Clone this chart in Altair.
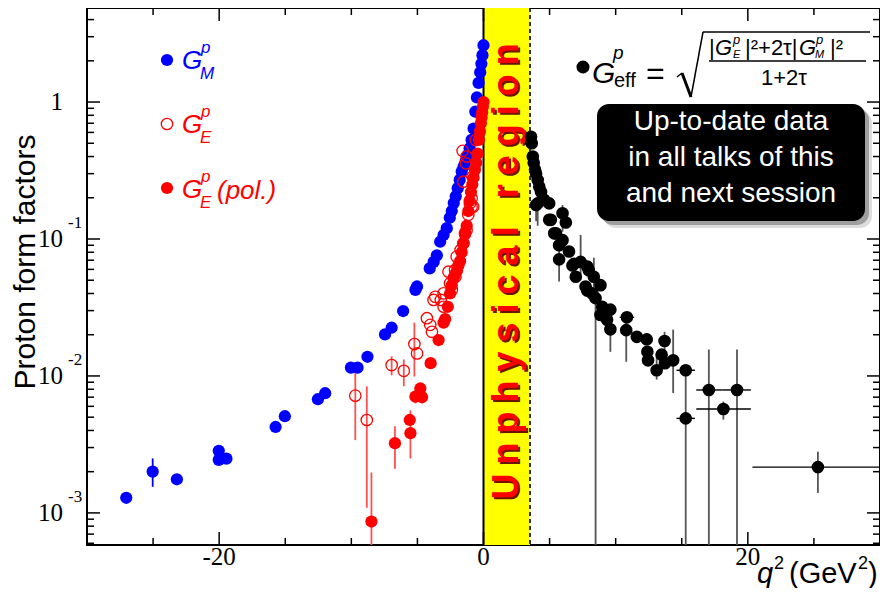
import altair as alt
import pandas as pd

# ---------------- data ----------------
gm_q = [0.0, -0.08, -0.16, -0.25, -0.375, -0.5, -0.62, -0.75, -0.9, -1.05, -1.2, -1.35, -1.5,
        -1.65, -1.8, -1.95, -2.1, -2.25, -2.4, -2.55, -2.78, -3.02, -3.28, -3.53, -3.77, -4.07,
        -5.03, -5.15, -6.08, -6.95, -7.45, -8.78, -9.53, -10.03, -11.98, -12.53, -15.03, -15.73,
        -19.45, -20.03, -20.03, -23.2, -25.03, -27.03]
gm_v = [2.6, 2.2, 1.9, 1.65, 1.38, 1.08, 0.85, 0.64, 0.53, 0.46, 0.41, 0.37, 0.34,
        0.31, 0.27, 0.235, 0.205, 0.183, 0.16, 0.143, 0.12, 0.107, 0.0955, 0.076, 0.068, 0.061,
        0.045, 0.0425, 0.0298, 0.0225, 0.0201, 0.0138, 0.0115, 0.0115, 0.00748, 0.00676, 0.00508, 0.00424,
        0.00249, 0.00284, 0.00244, 0.00176, 0.0020, 0.00129]
gm_err_q = [-25.03, -20.03]
gm_err_lo = [0.00155, 0.00235]
gm_err_hi = [0.0025, 0.00295]

gep_q = [0.0, -0.05, -0.1, -0.15, -0.2, -0.27, -0.35, -0.45, -0.55, -0.65, -0.75, -0.85, -0.95,
         -1.05, -1.15, -1.27, -1.4, -1.52, -1.65, -1.77, -1.9, -2.0, -2.15, -2.27, -2.4, -2.53,
         -2.7, -2.9, -3.02, -3.4, -4.0, -4.65, -4.78, -5.15, -5.53, -5.58, -6.7, -8.48]
gep_v = [1.0, 0.92, 0.84, 0.77, 0.70, 0.61, 0.53, 0.42, 0.36, 0.32, 0.28, 0.25, 0.22,
         0.19, 0.16, 0.125, 0.108, 0.093, 0.08, 0.069, 0.064, 0.059, 0.055, 0.052, 0.046, 0.040,
         0.032, 0.026, 0.0245, 0.0183, 0.0124, 0.0070, 0.0081, 0.00706, 0.00382, 0.00477, 0.00323, 0.000865]
gep_err_q = [-4.65, -5.15, -5.53, -6.7, -8.48]
gep_err_lo = [0.0063, 0.0063, 0.0025, 0.0021, 0.0003]
gep_err_hi = [0.0078, 0.0078, 0.0056, 0.0043, 0.00197]

ger_q = [-0.58, -0.83, -0.9, -0.9, -1.03, -1.15, -1.28, -1.33, -1.52, -1.58, -0.78, -1.28, -1.4,
         -1.52, -1.73, -2.03, -2.12, -2.15, -2.4, -2.53, -2.65, -3.02, -3.02, -3.23, -3.65, -3.78,
         -3.9, -4.03, -4.28, -5.03, -5.23, -6.03, -6.95, -8.83, -9.7]
ger_v = [0.528, 0.285, 0.198, 0.172, 0.182, 0.15, 0.40, 0.357, 0.262, 0.44, 0.172, 0.116, 0.11,
         0.093, 0.083, 0.0743, 0.053, 0.0595, 0.0425, 0.0475, 0.0577, 0.032, 0.0401, 0.0359, 0.0378, 0.0359,
         0.021, 0.0236, 0.0264, 0.0146, 0.0171, 0.0109, 0.012, 0.00477, 0.00718]
ger_err_q = [-9.7, -8.83, -6.95, -6.03, -5.23]
ger_err_lo = [0.0034, 0.00109, 0.0101, 0.0084, 0.0099]
ger_err_hi = [0.0109, 0.0084, 0.0139, 0.0132, 0.0245]

eff_q = [3.6, 3.65, 3.73, 3.8, 3.9, 3.98, 4.1, 4.22, 4.35, 4.6, 3.98, 4.1, 4.97, 5.1, 4.97, 5.98,
         6.23, 5.35, 5.48, 5.98, 5.72, 5.72, 6.47, 6.73, 6.85, 7.35, 7.85, 6.98, 7.72, 7.97, 8.23,
         8.35, 7.85, 8.48, 8.85, 8.98, 8.85, 9.35, 9.6, 9.6, 10.85, 10.8, 11.6, 12.35, 12.4, 12.45,
         13.1, 13.48, 13.7, 13.73, 14.35, 15.3, 15.3, 17.05, 18.15, 19.18, 25.3]
eff_v = [0.558, 0.50, 0.40, 0.36, 0.32, 0.30, 0.27, 0.241, 0.22, 0.193, 0.177, 0.182, 0.182, 0.138, 0.138, 0.154,
         0.132, 0.11, 0.11, 0.098, 0.090, 0.071, 0.081, 0.064, 0.066, 0.068, 0.063, 0.053, 0.045, 0.059, 0.040,
         0.053, 0.042, 0.037, 0.046, 0.032, 0.0279, 0.0257, 0.0305, 0.0219, 0.0268, 0.0216, 0.0193, 0.0185, 0.015, 0.013,
         0.011, 0.0143, 0.018, 0.0124, 0.013, 0.011, 0.0049, 0.0079, 0.00574, 0.0079, 0.00216]
eff_err_q = [3.98, 4.1, 5.98, 5.72, 7.35, 8.35, 8.48, 9.6, 10.8, 13.7, 13.1, 14.35, 15.3, 17.05, 18.15, 19.18, 25.3]
eff_err_lo = [0.135, 0.125, 0.113, 0.049, 0.050, 0.035, 0.0001, 0.015, 0.0127, 0.0155, 0.0094, 0.0075, 0.0001,
              0.0001, 0.0048, 0.0001, 0.0014]
eff_err_hi = [0.177, 0.182, 0.177, 0.088, 0.107, 0.073, 0.050, 0.0279, 0.0268, 0.021, 0.0147, 0.0218, 0.011,
              0.0156, 0.0065, 0.0156, 0.0028]
eff_xerr_v = [0.0268, 0.011, 0.0049, 0.0079, 0.00574, 0.0079, 0.00216]
eff_xerr_lo = [10.3, 14.6, 14.6, 16.1, 16.1, 18.1, 20.35]
eff_xerr_hi = [11.4, 16.0, 16.0, 18.1, 20.23, 20.23, 30.0]

band_lo = [0.0]
band_hi = [3.52]
band_label_q = [2.63]
band_label_g = [0.058]

y_major = [0.001, 0.01, 0.1, 1.0]
y_base = ["10", "10", "10", "1"]
y_exp = ["-3", "-2", "-1", ""]
x_major = [-20, 0, 20]
x_minor = [-25, -15, -10, -5, 5, 10, 15, 25]
x_labels = ["-20", "0", "20"]

# ---------------- layout ----------------
W, H = 793, 537
X0, Y0 = 87, 8
XDOM = [-30, 30]
YDOM = [5.83e-4, 4.86]
y_minor = [k * 10.0 ** e for e in range(-4, 1) for k in range(2, 10) if YDOM[0] < k * 10.0 ** e < YDOM[1]]

xs = alt.Scale(domain=XDOM, nice=False, zero=False)
ys = alt.Scale(type="log", domain=YDOM, nice=False)


def X(f):
    return alt.X(f, type="quantitative", scale=xs, axis=None)


def Y(f):
    return alt.Y(f, type="quantitative", scale=ys, axis=None)


def ptext(s, px, py, size, color="black", font="Liberation Sans", style="normal", weight="normal",
          align="left", baseline="alphabetic", angle=0):
    return alt.Chart(pd.DataFrame({"t": [s]})).mark_text(
        font=font, fontSize=size, fontStyle=style, fontWeight=weight, color=color,
        align=align, baseline=baseline, angle=angle
    ).encode(x=alt.value(px - X0), y=alt.value(py - Y0), text="t:N")


def pline(x1, y1, x2, y2, w=1.5, color="black"):
    return alt.Chart(pd.DataFrame({"a": [0]})).mark_rule(color=color, strokeWidth=w).encode(
        x=alt.value(x1 - X0), y=alt.value(y1 - Y0), x2=alt.value(x2 - X0), y2=alt.value(y2 - Y0))


def prect(x1, y1, x2, y2, color, opacity=1.0, r=0):
    return alt.Chart(pd.DataFrame({"a": [0]})).mark_rect(color=color, opacity=opacity, cornerRadius=r).encode(
        x=alt.value(x1 - X0), y=alt.value(y1 - Y0), x2=alt.value(x2 - X0), y2=alt.value(y2 - Y0))


def ppoint(px, py, color, filled=True, size=150):
    return alt.Chart(pd.DataFrame({"a": [0]})).mark_point(
        shape="circle", filled=filled, color=color, size=size, opacity=1, strokeWidth=1.3
    ).encode(x=alt.value(px - X0), y=alt.value(py - Y0))


layers = []

# unphysical band
band_df = pd.DataFrame({"lo": band_lo, "hi": band_hi})
layers.append(alt.Chart(band_df).mark_rect(color="#ffff00").encode(
    x=X("lo"), x2="hi", y=alt.value(0), y2=alt.value(H)))
layers.append(alt.Chart(band_df).mark_rule(color="black", strokeWidth=2).encode(
    x=X("lo"), y=alt.value(0), y2=alt.value(H)))
layers.append(alt.Chart(band_df).mark_rule(color="black", strokeWidth=1.6, strokeDash=[4, 3]).encode(
    x=X("hi"), y=alt.value(0), y2=alt.value(H)))

band_txt = "\u2005".join("Unphysical region")
lab_df = pd.DataFrame({"q": band_label_q, "g": band_label_g, "t": [band_txt]})
for col, off in [("#6b1500", 2), ("#ff0000", 0)]:
    layers.append(alt.Chart(lab_df).mark_text(
        font="Liberation Sans", fontSize=36, fontWeight="bold", color=col, align="center",
        baseline="alphabetic", angle=270, dx=-off, dy=off
    ).encode(x=X("q"), y=Y("g"), text="t:N"))


# error bars
def vbars(q, lo, hi, color, w=1.8):
    df = pd.DataFrame({"q": q, "lo": lo, "hi": hi})
    return alt.Chart(df).mark_rule(color=color, strokeWidth=w, clip=True).encode(x=X("q"), y=Y("lo"), y2="hi")


layers.append(vbars(gm_err_q, gm_err_lo, gm_err_hi, "#0000ff"))
layers.append(vbars(ger_err_q, ger_err_lo, ger_err_hi, "#ff5050"))
layers.append(vbars(gep_err_q, gep_err_lo, gep_err_hi, "#ff5050"))
layers.append(vbars(eff_err_q, eff_err_lo, eff_err_hi, "#555555"))
xerr_df = pd.DataFrame({"v": eff_xerr_v, "lo": eff_xerr_lo, "hi": eff_xerr_hi})
layers.append(alt.Chart(xerr_df).mark_rule(color="black", strokeWidth=1.4, clip=True).encode(
    x=X("lo"), x2="hi", y=Y("v")))


def pts(q, v, color, filled=True, size=150):
    df = pd.DataFrame({"q": q, "v": v})
    return alt.Chart(df).mark_point(shape="circle", filled=filled, color=color, size=size,
                                    opacity=1, strokeWidth=1.3, clip=True).encode(x=X("q"), y=Y("v"))


layers.append(pts(gm_q, gm_v, "#0000ff"))
layers.append(pts(ger_q, ger_v, "#ff0000", filled=False, size=130))
layers.append(pts(gep_q, gep_v, "#ff0000"))
layers.append(pts(eff_q, eff_v, "#000000", size=160))


# ticks (inward, ROOT style)
def yticks(vals, ln):
    df = pd.DataFrame({"v": vals})
    a = alt.Chart(df).mark_rule(color="black", strokeWidth=1.5).encode(y=Y("v"), x=alt.value(0), x2=alt.value(ln))
    b = alt.Chart(df).mark_rule(color="black", strokeWidth=1.5).encode(y=Y("v"), x=alt.value(W - ln), x2=alt.value(W))
    return [a, b]


def xticks(vals, ln):
    df = pd.DataFrame({"v": vals})
    a = alt.Chart(df).mark_rule(color="black", strokeWidth=1.5).encode(x=X("v"), y=alt.value(H), y2=alt.value(H - ln))
    b = alt.Chart(df).mark_rule(color="black", strokeWidth=1.5).encode(x=X("v"), y=alt.value(0), y2=alt.value(ln))
    return [a, b]


layers += yticks(y_major, 13) + yticks(y_minor, 7) + xticks(x_major, 13) + xticks(x_minor, 7)

# tick labels
ylab = pd.DataFrame({"v": y_major, "b": y_base, "e": y_exp})
layers.append(alt.Chart(ylab).mark_text(font="Liberation Serif", fontSize=25, align="right", baseline="middle").encode(
    y=Y("v"), x=alt.value(63 - X0), text="b:N"))
layers.append(alt.Chart(ylab).mark_text(font="Liberation Serif", fontSize=17, align="left", baseline="middle", dy=-16).encode(
    y=Y("v"), x=alt.value(68 - X0), text="e:N"))
xlab = pd.DataFrame({"v": x_major, "t": x_labels})
layers.append(alt.Chart(xlab).mark_text(font="Liberation Serif", fontSize=25, align="center", baseline="middle").encode(
    x=X("v"), y=alt.value(557 - Y0), text="t:N"))

# axis titles
layers.append(ptext("Proton form factors", 35, 262, 30, align="center", angle=270))
layers.append(ptext("q", 757, 583, 29, style="italic"))
layers.append(ptext("2", 774, 569, 18))
layers.append(ptext("(GeV", 789, 583, 29))
layers.append(ptext("2", 858, 569, 18))
layers.append(ptext(")", 868, 583, 29))

# legend
layers.append(ppoint(167, 60, "#0000ff"))
layers.append(ppoint(167, 124, "#ff0000", filled=False, size=130))
layers.append(ppoint(167, 188, "#ff0000"))
for (b, sub, col) in [(69, "M", "#0000ff"), (133, "E", "#ff0000"), (198, "E", "#ff0000")]:
    layers.append(ptext("G", 182, b, 26, color=col, style="italic"))
    layers.append(ptext("p", 201, b - 16, 17, color=col, style="italic"))
    layers.append(ptext(sub, 200, b + 10, 17, color=col, style="italic"))
layers.append(ptext("(pol.)", 217, 199, 26, color="#ff0000", style="italic"))

# formula
layers.append(ppoint(583, 67, "black", size=170))
layers.append(ptext("G", 592, 83, 30, style="italic"))
layers.append(ptext("p", 613, 59, 19, style="italic"))
layers.append(ptext("eff", 614, 87, 20))
layers.append(ptext("=", 646, 84, 32))
layers.append(pline(677, 77, 682, 73, 1.5))
layers.append(pline(682, 73, 691, 97, 3))
layers.append(pline(691, 97, 703, 32, 1.5))
layers.append(pline(703, 32, 870, 32, 1.5))
layers.append(ptext("|", 709, 55, 22))
layers.append(ptext("G", 715, 55, 22, style="italic"))
layers.append(ptext("p", 733, 44, 13, style="italic"))
layers.append(ptext("E", 733, 58, 11, style="italic"))
layers.append(ptext("|\u00b2+2\u03c4|", 745, 55, 22))
layers.append(ptext("G", 799, 55, 22, style="italic"))
layers.append(ptext("p", 816, 44, 13, style="italic"))
layers.append(ptext("M", 815, 58, 11, style="italic"))
layers.append(ptext("|\u00b2", 830, 55, 22))
layers.append(pline(709, 61, 866, 61, 1.5))
layers.append(ptext("1+2\u03c4", 784, 85, 22, align="center"))

# black info box
layers.append(prect(604, 111, 872, 228, "#bbbbbb", 0.5, 12))
layers.append(prect(601, 108, 869, 225, "#777777", 0.6, 12))
layers.append(prect(597, 104, 865, 221, "#000000", 1.0, 12))
layers.append(ptext("Up-to-date data", 731, 130, 28, color="white", align="center"))
layers.append(ptext("in all talks of this", 731, 166, 28, color="white", align="center"))
layers.append(ptext("and next session", 731, 202, 28, color="white", align="center"))

chart = alt.layer(*layers).properties(
    width=W, height=H,
    padding={"left": 79, "top": 0, "right": 0, "bottom": 43},
    autosize=alt.AutoSizeParams(type="none"),
).configure_view(stroke="black", strokeWidth=2)

chart.save("out.html", embed_options={"renderer": "svg", "actions": False})
